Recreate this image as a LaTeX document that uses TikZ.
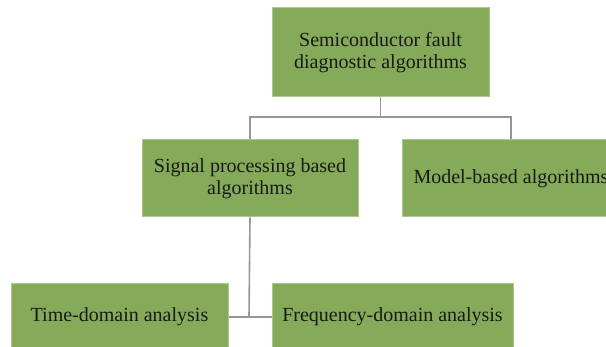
\documentclass[tikz,border=0pt]{standalone}
\usepackage{fontspec}
\setmainfont{Liberation Serif}
\definecolor{boxfill}{RGB}{132,170,90}
\definecolor{boxedge}{RGB}{170,200,140}
\definecolor{linkgray}{RGB}{150,150,150}
\begin{document}
\begin{tikzpicture}[x=1pt,y=-1pt,
  algbox/.style={draw=boxedge,line width=1pt,fill=boxfill,inner sep=0pt,
    align=center,font=\fontsize{20}{22}\selectfont,text=black!90},
  link/.style={draw=linkgray,line width=1.6pt}]
\useasboundingbox (0,0) rectangle (606,347);
\clip (0,0) rectangle (606,347);
% tree of algorithm families
\node[algbox,minimum width=217pt,minimum height=89pt] (root) at (380.5,52.5)
  {Semiconductor fault\\diagnostic algorithms};
\node[algbox,minimum width=216pt,minimum height=77pt] (sig) at (250,178.5)
  {Signal processing based\\algorithms};
\node[algbox,minimum width=218pt,minimum height=77pt] (model) at (511,178.5)
  {\raisebox{-2pt}{Model-based algorithms}};
\node[algbox,minimum width=217pt,minimum height=66pt] (time) at (119.5,317)
  {\raisebox{-2pt}{Time-domain analysis}};
\node[algbox,minimum width=241pt,minimum height=66pt] (freq) at (392.5,317)
  {\raisebox{-2pt}{Frequency-domain analysis}};
% connectors
\coordinate (bus) at (380.5,117);
\coordinate (joint) at (249,317);
\draw[link] (root.south) -- (bus);
\draw[link] (sig.north) |- (bus) -| (model.north);
\draw[link] (sig.south) -- (joint);
\draw[link] (time.east) -- (freq.west);
\end{tikzpicture}
\end{document}
